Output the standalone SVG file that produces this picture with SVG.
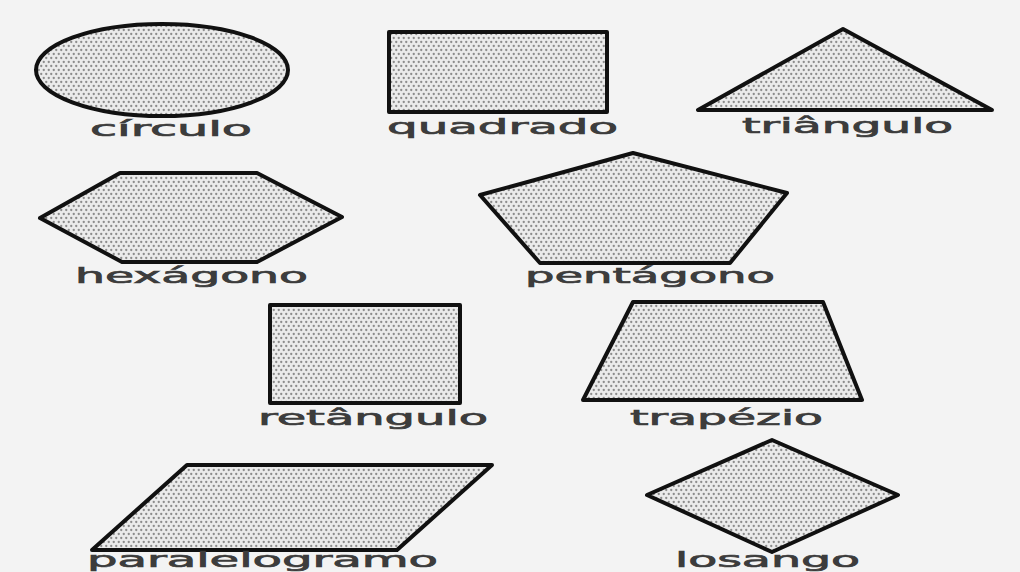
<svg xmlns="http://www.w3.org/2000/svg" width="1020" height="572" viewBox="0 0 1020 572">
  <defs>
    <pattern id="dots" width="5" height="8" patternUnits="userSpaceOnUse">
      <rect width="5" height="8" fill="#ebebeb"/>
      <circle cx="1.25" cy="2" r="1.15" fill="#8c8c8c"/>
      <circle cx="3.75" cy="6" r="1.15" fill="#8c8c8c"/>
    </pattern>
  </defs>
  <style>
    .shape { fill: url(#dots); stroke: #111111; stroke-width: 4; stroke-linejoin: round; }
    .lbl { font-family: "DejaVu Sans", "Liberation Sans", sans-serif; font-size: 21px; font-weight: normal; fill: #3c3c3c; stroke: #3c3c3c; stroke-width: 0.7; }
  </style>
  <rect width="1020" height="572" fill="#f3f3f3"/>

  <g id="circulo">
    <ellipse class="shape" cx="162" cy="70" rx="126" ry="46"/>
    <text class="lbl" x="90" y="136" textLength="162" lengthAdjust="spacingAndGlyphs">círculo</text>
  </g>

  <g id="quadrado">
    <rect class="shape" x="389" y="32" width="218" height="80"/>
    <text class="lbl" x="387" y="134" textLength="231" lengthAdjust="spacingAndGlyphs">quadrado</text>
  </g>

  <g id="triangulo">
    <polygon class="shape" points="843,29 698,110 992,110"/>
    <text class="lbl" x="742" y="133" textLength="211" lengthAdjust="spacingAndGlyphs">triângulo</text>
  </g>

  <g id="hexagono">
    <polygon class="shape" points="40,218 120,173 257,173 342,217 257,262 122,262"/>
    <text class="lbl" x="75" y="283" textLength="233" lengthAdjust="spacingAndGlyphs">hexágono</text>
  </g>

  <g id="pentagono">
    <polygon class="shape" points="633,153 787,193 730,263 540,263 480,195"/>
    <text class="lbl" x="525" y="283" textLength="250" lengthAdjust="spacingAndGlyphs">pentágono</text>
  </g>

  <g id="retangulo">
    <rect class="shape" x="270" y="305" width="190" height="98"/>
    <text class="lbl" x="258" y="425" textLength="230" lengthAdjust="spacingAndGlyphs">retângulo</text>
  </g>

  <g id="trapezio">
    <polygon class="shape" points="633,302 823,302 862,400 583,400"/>
    <text class="lbl" x="630" y="425" textLength="193" lengthAdjust="spacingAndGlyphs">trapézio</text>
  </g>

  <g id="paralelogramo">
    <polygon class="shape" points="187,465 492,465 397,550 92,550"/>
    <text class="lbl" x="87" y="567" textLength="351" lengthAdjust="spacingAndGlyphs">paralelogramo</text>
  </g>

  <g id="losango">
    <polygon class="shape" points="772,440 898,495 772,552 647,495"/>
    <text class="lbl" x="675" y="567" textLength="185" lengthAdjust="spacingAndGlyphs">losango</text>
  </g>
</svg>
